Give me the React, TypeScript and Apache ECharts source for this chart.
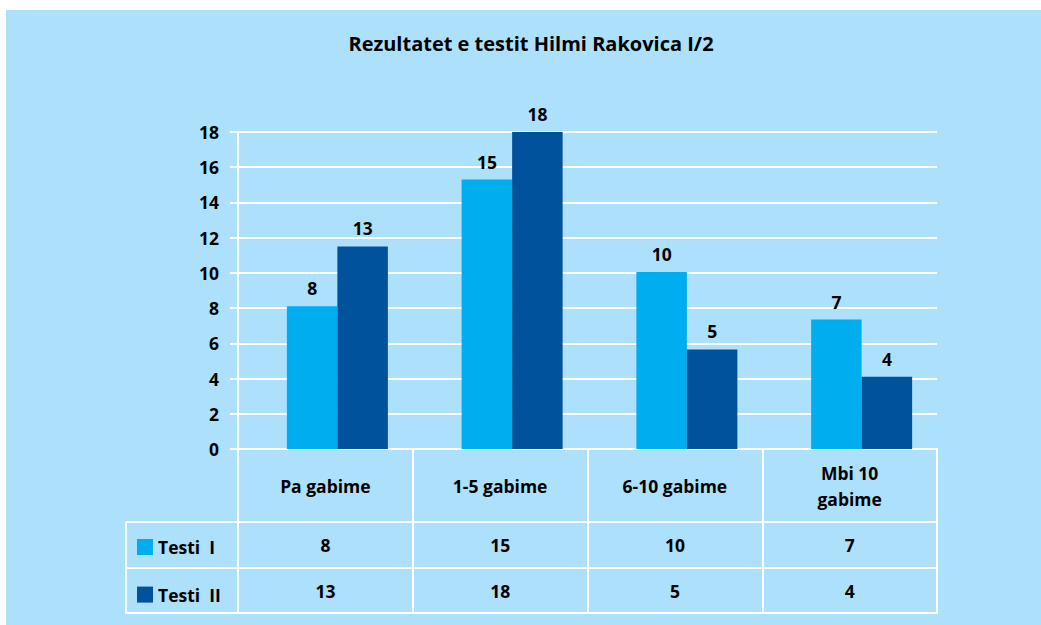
import React, { useEffect, useRef } from "react";
import * as echarts from "echarts";

const categories = ["Pa gabime", "1-5 gabime", "6-10 gabime", "Mbi 10\ngabime"];
const seriesNames = ["Testi  I", "Testi  II"];
// values printed in the table and above the bars
const testI = [8, 15, 10, 7];
const testII = [13, 18, 5, 4];
// bar heights as drawn in the picture
const barTestI = [8.1, 15.3, 10.05, 7.35];
const barTestII = [11.5, 18, 5.65, 4.1];
const yTicks = { min: 0, max: 18, interval: 2 };

const BG = "#ace0fb";
const C1 = "#00aeef";
const C2 = "#00529c";
const FONT = "Open Sans";

export default function App() {
  const ref = useRef<HTMLDivElement>(null);
  useEffect(() => {
    if (!ref.current) return;
    const chart = echarts.init(ref.current, undefined, { renderer: "svg" });
    const textBase = { fontFamily: FONT, fontWeight: "bold" as const, color: "#000" };
    const FS = 17.5;
    const gridTop = 132;
    const gridBottom = 176;
    const plotLeft = 238;
    const plotRight = 937;
    const row1Bottom = 522;
    const row2Bottom = 568;
    const tableBottom = 613;
    const tableLeft = 126;
    const white = "#ffffff";
    chart.setOption({
      animation: false,
      backgroundColor: "#ffffff",
      grid: [
        { left: plotLeft, right: 1041 - plotRight, top: gridTop, bottom: gridBottom },
        { left: plotLeft + 12, right: 1041 - plotRight - 12, top: gridTop, bottom: gridBottom },
      ],
      legend: {
        orient: "vertical",
        left: 137,
        top: 538,
        itemWidth: 16,
        itemHeight: 16,
        itemGap: 29.6,
        icon: "rect",
        padding: 0,
        data: seriesNames,
        textStyle: { ...textBase, fontSize: FS, lineHeight: 16 },
      },
      xAxis: [
        {
          type: "category",
          gridIndex: 0,
          data: categories,
          axisLine: { show: true, lineStyle: { color: white, width: 2 } },
          axisTick: { show: true, length: tableBottom - (625 - gridBottom), lineStyle: { color: white, width: 2 } },
          axisLabel: { ...textBase, fontSize: FS, lineHeight: 26, interval: 0, margin: 36.5, verticalAlign: "middle" },
          splitLine: { show: false },
        },
        {
          type: "category",
          gridIndex: 1,
          data: categories,
          show: false,
        },
      ],
      yAxis: [
        {
          type: "value",
          gridIndex: 0,
          ...yTicks,
          axisLine: { show: true, lineStyle: { color: white, width: 2 } },
          axisTick: { show: true, length: 8, lineStyle: { color: white, width: 2 } },
          axisLabel: { ...textBase, fontSize: FS, margin: 19 },
          splitLine: { show: true, lineStyle: { color: white, width: 2 } },
        },
        { type: "value", gridIndex: 1, ...yTicks, show: false },
      ],
      series: [
        {
          name: seriesNames[0],
          type: "bar",
          xAxisIndex: 1,
          yAxisIndex: 1,
          data: barTestI,
          barWidth: 50.5,
          barGap: "0%",
          itemStyle: { color: C1 },
          label: {
            show: true,
            position: "top",
            distance: 9,
            ...textBase,
            fontSize: FS,
            formatter: (p: any) => String(testI[p.dataIndex]),
          },
        },
        {
          name: seriesNames[1],
          type: "bar",
          xAxisIndex: 1,
          yAxisIndex: 1,
          data: barTestII,
          barWidth: 50.5,
          barGap: "0%",
          itemStyle: { color: C2 },
          label: {
            show: true,
            position: "top",
            distance: 9,
            ...textBase,
            fontSize: FS,
            formatter: (p: any) => String(testII[p.dataIndex]),
          },
        },
      ],
    });

    const graphics: any[] = [
      { type: "rect", z: -100, silent: true, shape: { x: 6, y: 10, width: 1041, height: 625 }, style: { fill: BG } },
      {
        type: "text",
        x: 531,
        y: 43.5,
        style: { text: "Rezultatet e testit Hilmi Rakovica I/2", fontFamily: FONT, fontWeight: "bold", fontSize: 20, fill: "#000", align: "center", verticalAlign: "middle" },
      },
    ];
    const hl = (y: number) => ({ type: "line", shape: { x1: tableLeft, y1: y, x2: plotRight + 1, y2: y }, style: { stroke: white, lineWidth: 2 } });
    graphics.push(hl(row1Bottom), hl(row2Bottom), hl(tableBottom));
    graphics.push({ type: "line", shape: { x1: tableLeft, y1: row1Bottom, x2: tableLeft, y2: tableBottom + 1 }, style: { stroke: white, lineWidth: 2 } });
    const rows = [testI, testII];
    const rowY = [(row1Bottom + row2Bottom) / 2, (row2Bottom + tableBottom) / 2 + 0.5];
    categories.forEach((c, i) => {
      const x = chart.convertToPixel({ xAxisIndex: 0 }, c) as number;
      rows.forEach((r, ri) => {
        graphics.push({
          type: "text",
          x,
          y: rowY[ri],
          style: { text: String(r[i]), fontFamily: FONT, fontWeight: "bold", fontSize: FS, fill: "#000", align: "center", verticalAlign: "middle" },
        });
      });
    });
    chart.setOption({ graphic: graphics });
    return () => chart.dispose();
  }, []);
  return <div ref={ref} style={{ position: "absolute", left: 0, top: 0, width: 1041, height: 625 }} />;
}
